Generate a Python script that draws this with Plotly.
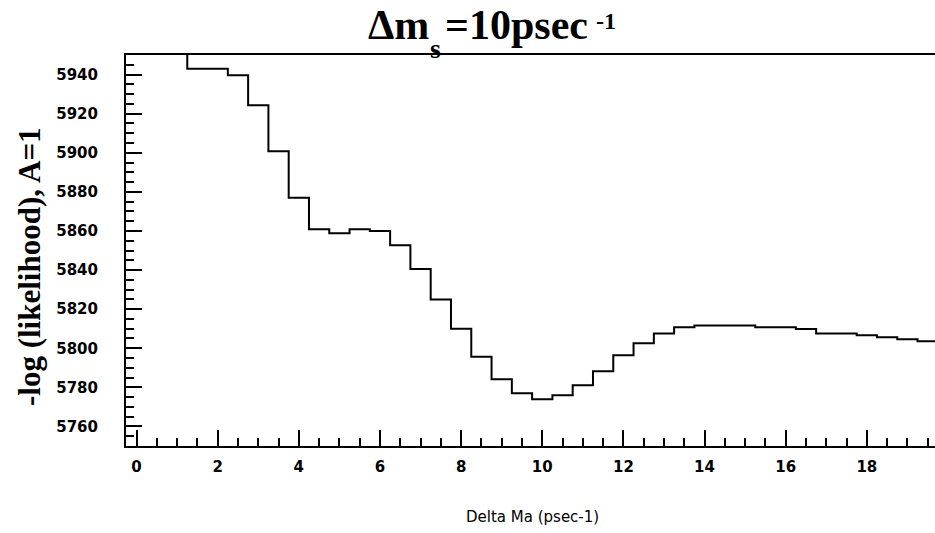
import plotly.graph_objects as go

# bin centers (Delta Ms, psec^-1) and -log(likelihood) values
bin_centers = [1.0, 1.5, 2.0, 2.5, 3.0, 3.5, 4.0, 4.5, 5.0, 5.5, 6.0, 6.5, 7.0, 7.5,
               8.0, 8.5, 9.0, 9.5, 10.0, 10.5, 11.0, 11.5, 12.0, 12.5, 13.0, 13.5,
               14.0, 14.5, 15.0, 15.5, 16.0, 16.5, 17.0, 17.5, 18.0, 18.5, 19.0, 19.5]
nll_values = [5965.0, 5943.0, 5943.0, 5939.6, 5924.3, 5900.8, 5877.0, 5860.9, 5858.8,
              5860.9, 5860.0, 5852.7, 5840.6, 5825.0, 5810.0, 5795.6, 5784.1, 5777.0,
              5773.9, 5776.0, 5781.1, 5788.2, 5796.4, 5802.5, 5807.6, 5810.7, 5811.6,
              5811.6, 5811.6, 5810.7, 5810.7, 5809.9, 5807.5, 5807.5, 5806.6, 5805.6,
              5804.6, 5803.6]
bin_width = 0.5

x_tick_vals = [0, 2, 4, 6, 8, 10, 12, 14, 16, 18]
y_tick_vals = [5760, 5780, 5800, 5820, 5840, 5860, 5880, 5900, 5920, 5940]

# histogram edges for a step line
edges = [c - bin_width / 2 for c in bin_centers] + [bin_centers[-1] + bin_width / 2]
vals = nll_values + [nll_values[-1]]

fig = go.Figure()
fig.add_trace(go.Scatter(x=edges, y=vals, mode="lines", line_shape="hv",
                         line=dict(color="black", width=2), showlegend=False,
                         hoverinfo="skip"))

W, H = 935, 533
L, T, B, R = 126, 55, 87, 0
pw, ph = W - L - R, H - T - B


def px_x(x):
    return (x - L) / pw


def px_y(y):
    return (H - B - y) / ph


tickfont = dict(family="DejaVu Sans", size=15, color="black", weight="bold")
serif = "Liberation Serif"


def title_piece(text, size, left, center_y):
    return dict(text=text, font=dict(family=serif, size=size, color="black", weight="bold"),
                xref="paper", yref="paper", x=px_x(left), y=px_y(center_y),
                xanchor="left", yanchor="middle", showarrow=False, borderpad=0)


annotations = [
    title_piece("Δm", 42, 367, 24.5),
    title_piece("s", 28, 429, 48),
    title_piece("=10psec", 42, 444, 24.5),
    title_piece("-1", 24, 595, 21),
    dict(text="-log (likelihood), A=1", textangle=-90,
         font=dict(family=serif, size=31, color="black", weight="bold"),
         xref="paper", yref="paper", x=px_x(29), y=px_y(267),
         xanchor="center", yanchor="middle", showarrow=False),
    dict(text="Delta Ma (psec-1)",
         font=dict(family="DejaVu Sans", size=15, color="black"),
         xref="paper", yref="paper", x=px_x(532), y=px_y(517),
         xanchor="center", yanchor="middle", showarrow=False),
]

fig.update_layout(
    width=W, height=H,
    margin=dict(l=L, r=R, t=T, b=B, pad=0),
    paper_bgcolor="white", plot_bgcolor="white",
    xaxis=dict(range=[-0.26, 19.68], tickvals=x_tick_vals, ticks="inside", ticklen=16,
               tickwidth=2, tickcolor="black", showline=True, linecolor="black",
               linewidth=2, mirror=True, showgrid=False, zeroline=False,
               tickfont=tickfont, ticklabelstandoff=6,
               minor=dict(dtick=0.5, tick0=0, ticks="inside", ticklen=8, tickwidth=2,
                          tickcolor="black", showgrid=False)),
    yaxis=dict(range=[5750, 5950], tickvals=y_tick_vals, ticks="inside", ticklen=16,
               tickwidth=2, tickcolor="black", showline=True, linecolor="black",
               linewidth=2, showgrid=False, zeroline=False,
               tickfont=tickfont, ticklabelstandoff=23,
               minor=dict(dtick=5, tick0=5750, ticks="inside", ticklen=8, tickwidth=2,
                          tickcolor="black", showgrid=False)),
    annotations=annotations,
)

fig.write_html("out.html", config={"displayModeBar": False},
               post_script="document.body.style.margin='0px';")
